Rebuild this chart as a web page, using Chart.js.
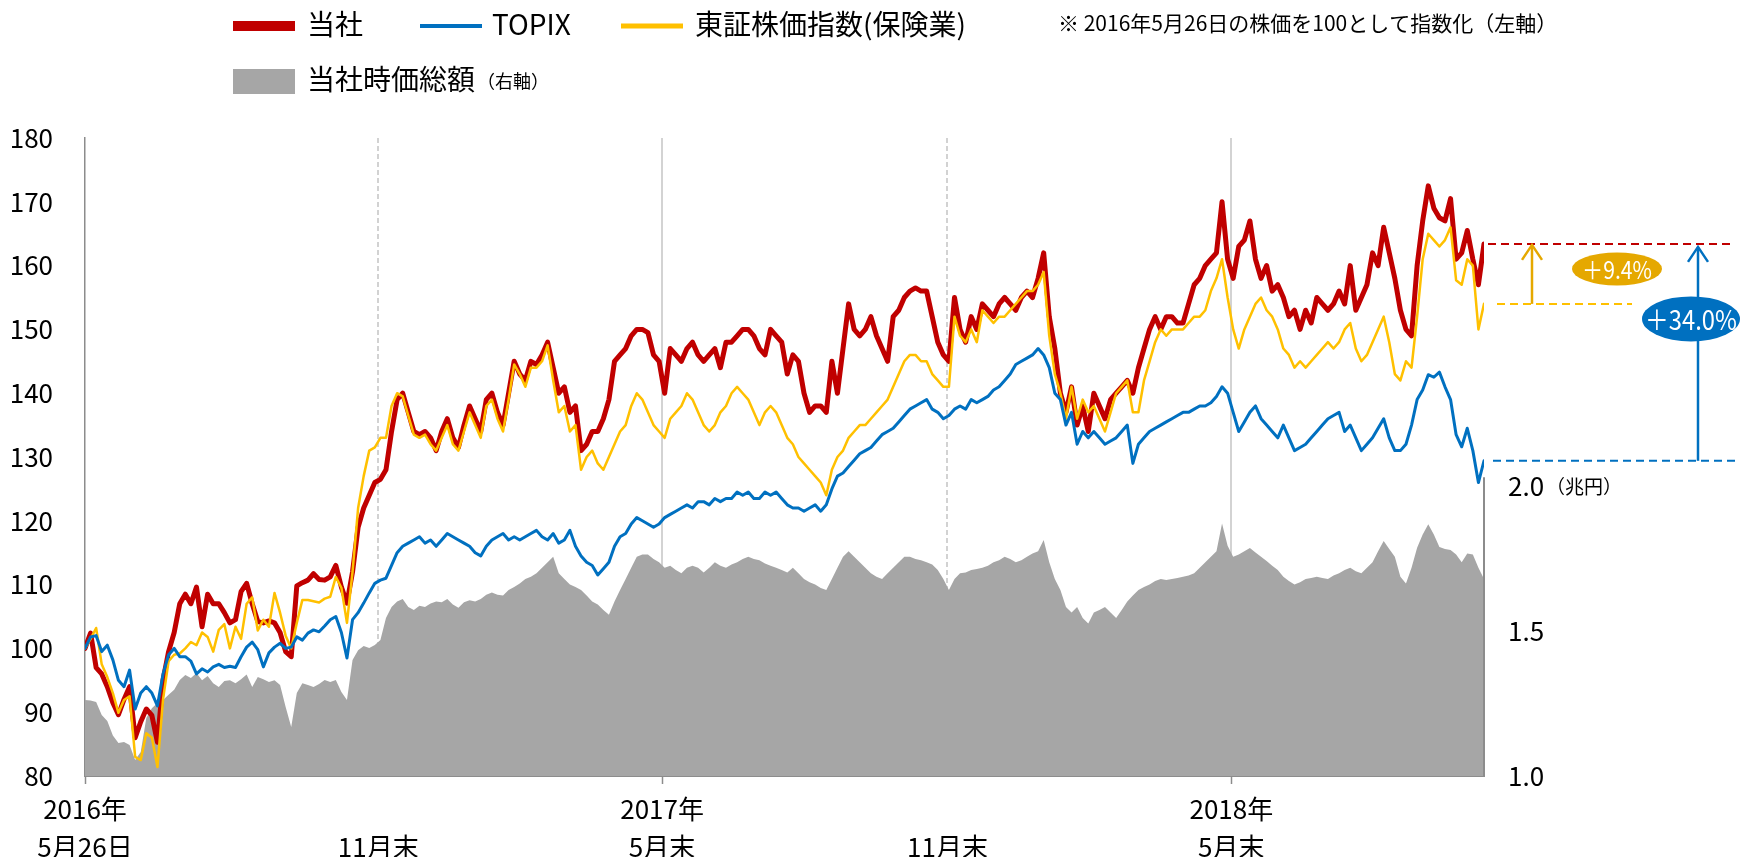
<!DOCTYPE html>
<html lang="ja">
<head>
<meta charset="utf-8">
<title>株価推移</title>
<script src="https://cdn.jsdelivr.net/npm/chart.js@4/dist/chart.umd.min.js"></script>
<style>
  html, body { margin: 0; padding: 0; background: #ffffff; }
  canvas { display: block; }
</style>
</head>
<body>
<canvas id="c" width="1746" height="857" style="width:1746px;height:857px"></canvas>
<script>
// ---- Period covered (samples are evenly spaced between these dates) ----
const START_DATE = '2016-05-26';
const END_DATE = '2018-11-09';

// ---- Share price index, 2016-05-26 = 100 (left axis) ----
const companyIdx = [
  100, 102.4, 97, 96, 94, 91.5, 89.6, 92, 94, 86,
  88.5, 90.5, 89.5, 85.3, 95, 99.5, 102.5, 107, 108.5, 107,
  109.6, 103.4, 108.5, 107, 107, 105.6, 104, 104.5, 108.9, 110.2,
  107, 104.2, 104, 104.3, 104, 102.5, 99.5, 98.7, 109.8, 110.3,
  110.7, 111.7, 110.8, 110.7, 111.2, 113, 109.6, 107.1, 112, 119,
  122, 124, 126, 126.5, 128, 134, 139, 140, 137, 134,
  133.5, 134, 133, 131, 134, 136, 133, 131.5, 135, 138,
  136, 134, 139, 140, 137, 135, 140, 145, 143, 142,
  145, 144.5, 146, 148, 144, 140, 141, 137, 138, 131,
  132, 134, 134, 136, 139, 145, 146, 147, 149, 150,
  150, 149.5, 146, 145, 140, 147, 146, 145, 147, 148,
  146, 145, 146, 147, 144, 148, 148, 149, 150, 150,
  149, 147, 146, 150, 149, 148, 143, 146, 145, 140,
  137, 138, 138, 137, 145, 140, 147, 154, 150, 149,
  150, 152, 149, 147, 145, 152, 153, 155, 156, 156.5,
  156, 156, 152, 148, 146, 145, 155, 150, 148, 152,
  150, 154, 153, 152, 154, 155, 154, 153, 155, 156,
  155, 158, 162, 152, 147, 140, 137, 141, 135, 138,
  134, 140, 138, 136, 139, 140, 141, 142, 140, 144,
  147, 150, 152, 150, 152, 152, 151, 151, 154, 157,
  158, 160, 161, 162, 170, 161, 158, 163, 164, 167,
  161, 158, 160, 156, 157, 155, 152, 153, 150, 153,
  151, 155, 154, 153, 154, 156, 154, 160, 153, 155,
  157, 162, 160, 166, 162, 158, 153, 150, 149, 160,
  167, 172.5, 169, 167.5, 167, 170.5, 161, 162, 165.5, 161,
  157, 163.4
];

const topixIdx = [
  100, 101.8, 102, 99.5, 100.5, 98.2, 95, 94, 96.6, 90.5,
  93, 94, 93, 91, 96, 99, 100, 98.7, 98.7, 98,
  96, 96.8, 96.3, 97.1, 97.5, 97, 97.2, 97, 98.7, 100.2,
  101, 99.8, 97.1, 99.3, 100.2, 100.8, 100, 100.2, 101.8, 101.3,
  102.4, 102.9, 102.6, 103.5, 104.5, 105, 102.5, 98.5, 104.5, 105.6,
  107.1, 108.7, 110.2, 110.7, 111, 113, 115, 116, 116.5, 117,
  117.5, 116.5, 117, 116, 117, 118, 117.5, 117, 116.5, 116,
  115, 114.5, 116, 117, 117.5, 118, 117, 117.5, 117, 117.5,
  118, 118.5, 117.5, 117, 118, 116.5, 117, 118.5, 116, 114.5,
  113.5, 113, 111.5, 112.5, 113.5, 116, 117.5, 118, 119.5, 120.5,
  120, 119.5, 119, 119.5, 120.5, 121, 121.5, 122, 122.5, 122,
  123, 123, 122.5, 123.5, 123, 123.5, 123.5, 124.5, 124, 124.5,
  123.5, 123.5, 124.5, 124, 124.5, 123.5, 122.5, 122, 122, 121.5,
  122, 122.5, 121.5, 122.5, 125, 127, 127.5, 128.5, 129.5, 130.5,
  131, 131.5, 132.5, 133.5, 134, 134.5, 135.5, 136.5, 137.5, 138,
  138.5, 139, 137.5, 137, 136, 136.5, 137.5, 138, 137.5, 139,
  138.5, 139, 139.5, 140.5, 141, 142, 143, 144.5, 145, 145.5,
  146, 147, 146, 144, 140, 139, 135, 137, 132, 134,
  133, 134, 133, 132, 132.5, 133, 134, 135, 129, 132,
  133, 134, 134.5, 135, 135.5, 136, 136.5, 137, 137, 137.5,
  138, 138, 138.5, 139.5, 141, 140, 137, 134, 135.5, 137,
  138, 136, 135, 134, 133, 135, 133, 131, 131.5, 132,
  133, 134, 135, 136, 136.5, 137, 134, 135, 133, 131,
  132, 133, 134.5, 136, 133, 131, 131, 132, 135, 139,
  140.5, 142.9, 142.5, 143.3, 141, 139, 133.5, 131.6, 134.5, 131,
  126, 129.4
];

const insuranceIdx = [
  100, 101.5, 103.2, 97.5, 95.5, 93, 89.9, 91.9, 92.5, 83,
  82.5, 86.7, 86, 81.4, 92, 98, 99, 99.2, 100, 101,
  100.5, 102.5, 101.8, 99.5, 102.9, 103.8, 100, 103.4, 101.5, 107,
  108, 102.8, 104.5, 103.4, 108.7, 105.6, 102, 100, 104, 107.6,
  107.6, 107.4, 107.2, 107.8, 108.1, 111.2, 109.5, 104, 112, 122,
  127, 131, 131.5, 133, 133, 138, 140, 139.5, 136.5, 133.5,
  133, 133.5, 132, 131, 133, 135, 132, 131, 134, 137,
  135, 133, 138, 139, 136, 134, 139, 144.5, 143, 141,
  144, 144, 145, 147.5, 142, 137, 138, 134, 135, 128,
  130, 131, 129, 128, 130, 132, 134, 135, 138, 140,
  139, 137, 135, 134, 133, 136, 137, 138, 140, 139,
  137, 135, 134, 135, 137, 138, 140, 141, 140, 139,
  137, 135, 137, 138, 137, 135, 133, 132, 130, 129,
  128, 127, 126, 124, 128, 130, 131, 133, 134, 135,
  135, 136, 137, 138, 139, 141, 143, 145, 146, 146,
  145, 145, 143, 142, 141, 141, 152, 149, 148, 150,
  148, 153, 152, 151, 152, 152, 153, 154, 155, 156,
  156, 157, 159, 149, 143, 140, 136, 141, 136, 139,
  137, 138, 136, 134, 137, 140, 141, 142, 137, 137,
  142, 145, 148, 150, 149, 150, 150, 150, 151, 152,
  152, 153, 156, 158, 161, 155, 150, 147, 150, 152,
  154, 155, 153, 152, 150, 147, 146, 144, 145, 144,
  145, 146, 147, 148, 147, 148, 150, 151, 147, 145,
  146, 148, 150, 152, 148, 143, 142, 145, 144, 152,
  161, 165, 164, 163, 164, 166, 157.7, 157, 161, 160,
  150, 154
];

// ---- Market capitalisation, trillion yen (right axis) ----
const marketCap = [
  1.262, 1.26, 1.255, 1.21, 1.19, 1.14, 1.114, 1.117, 1.107, 1.055,
  1.083, 1.2, 1.234, 1.252, 1.262, 1.28, 1.297, 1.331, 1.348, 1.338,
  1.355, 1.33, 1.345, 1.32, 1.307, 1.328, 1.33, 1.32, 1.334, 1.35,
  1.307, 1.341, 1.334, 1.324, 1.33, 1.314, 1.238, 1.169, 1.286, 1.32,
  1.314, 1.307, 1.317, 1.331, 1.324, 1.331, 1.29, 1.262, 1.40, 1.434,
  1.448, 1.441, 1.452, 1.469, 1.545, 1.583, 1.602, 1.61, 1.583, 1.572,
  1.587, 1.583, 1.595, 1.602, 1.599, 1.61, 1.591, 1.58, 1.599, 1.606,
  1.602, 1.61, 1.625, 1.633, 1.625, 1.622, 1.641, 1.652, 1.664, 1.679,
  1.687, 1.699, 1.718, 1.737, 1.756, 1.699, 1.679, 1.66, 1.652, 1.641,
  1.622, 1.602, 1.591, 1.572, 1.556, 1.602, 1.641, 1.679, 1.718, 1.756,
  1.764, 1.764, 1.748, 1.737, 1.718, 1.725, 1.71, 1.699, 1.718, 1.725,
  1.718, 1.702, 1.718, 1.737, 1.725, 1.718, 1.729, 1.737, 1.748, 1.756,
  1.748, 1.744, 1.733, 1.725, 1.718, 1.71, 1.702, 1.718, 1.699, 1.679,
  1.668, 1.66, 1.648, 1.641, 1.679, 1.718, 1.756, 1.775, 1.756, 1.737,
  1.718, 1.699, 1.687, 1.679, 1.699, 1.718, 1.737, 1.756, 1.756, 1.748,
  1.744, 1.737, 1.729, 1.71, 1.679, 1.641, 1.679, 1.699, 1.702, 1.71,
  1.714, 1.718, 1.725, 1.737, 1.744, 1.756, 1.748, 1.737, 1.744, 1.756,
  1.767, 1.775, 1.814, 1.737, 1.679, 1.641, 1.583, 1.564, 1.583, 1.545,
  1.526, 1.564, 1.572, 1.583, 1.564, 1.545, 1.572, 1.602, 1.622, 1.641,
  1.652, 1.66, 1.672, 1.679, 1.676, 1.679, 1.683, 1.687, 1.691, 1.699,
  1.718, 1.737, 1.756, 1.775, 1.871, 1.794, 1.756, 1.764, 1.775, 1.786,
  1.771, 1.756, 1.741, 1.725, 1.71, 1.687, 1.672, 1.66, 1.668, 1.679,
  1.683, 1.687, 1.683, 1.679, 1.691, 1.699, 1.71, 1.718, 1.706, 1.699,
  1.718, 1.737, 1.775, 1.81, 1.783, 1.756, 1.687, 1.664, 1.718, 1.787,
  1.833, 1.868, 1.833, 1.79, 1.783, 1.779, 1.764, 1.737, 1.767, 1.764,
  1.718, 1.679
];

// ---- Axis labelling ----
const axisDates = ['2016-05-26', '2016-11-30', '2017-05-31', '2017-11-30', '2018-05-31'];
const axisLabels = [
  ['2016年', '5月26日'],
  ['', '11月末'],
  ['2017年', '5月末'],
  ['', '11月末'],
  ['2018年', '5月末']
];
const guideDates = ['2016-11-30', '2017-05-31', '2017-11-30', '2018-05-31'];
const guideDashed = [true, false, true, false];
const rightTicks = [1.0, 1.5, 2.0];

const seriesNames = ['当社', 'TOPIX', '東証株価指数(保険業)', '当社時価総額'];
const noteText = '※ 2016年5月26日の株価を100として指数化（左軸）';

// ---------------------------------------------------------------
const FONT = '"Noto Sans CJK JP", "Noto Sans", sans-serif';
const DAY = 86400000;
const dayOf = d => Math.round((Date.parse(d) - Date.parse(START_DATE)) / DAY);
const totalDays = dayOf(END_DATE);
const axisDays = axisDates.map(dayOf);
const toPoints = arr => arr.map((v, i) => ({ x: i * totalDays / (arr.length - 1), y: v }));
const last = arr => arr[arr.length - 1];

const COLORS = { company: '#C00000', topix: '#0070C0', insurance: '#FFC000', cap: '#A6A6A6', gold: '#E5A800', axis: '#8c8c8c', guide: '#c4c4c4' };

function dashedLine(ctx, x1, x2, y, color) {
  ctx.save();
  ctx.strokeStyle = color; ctx.lineWidth = 2; ctx.setLineDash([8, 5]);
  ctx.beginPath(); ctx.moveTo(x1, y); ctx.lineTo(x2, y); ctx.stroke();
  ctx.restore();
}
function upArrow(ctx, x, yFrom, yTo, color) {
  ctx.save();
  ctx.strokeStyle = color; ctx.lineWidth = 2.5; ctx.lineJoin = 'miter';
  ctx.beginPath(); ctx.moveTo(x, yFrom); ctx.lineTo(x, yTo); ctx.stroke();
  ctx.beginPath(); ctx.moveTo(x - 10, yTo + 15); ctx.lineTo(x, yTo); ctx.lineTo(x + 10, yTo + 15); ctx.stroke();
  ctx.restore();
}
function badge(ctx, cx, cy, rx, ry, color, text, size) {
  ctx.save();
  ctx.fillStyle = color;
  ctx.beginPath(); ctx.ellipse(cx, cy, rx, ry, 0, 0, Math.PI * 2); ctx.fill();
  ctx.fillStyle = '#ffffff';
  ctx.font = `${size}px ${FONT}`;
  ctx.textAlign = 'center'; ctx.textBaseline = 'middle';
  ctx.translate(cx, cy + 1); ctx.scale(0.88, 1);
  ctx.fillText(text, 0, 0);
  ctx.restore();
}
const signed = v => '＋' + v.toFixed(1) + '%';

const overlay = {
  id: 'overlay',
  beforeDatasetsDraw(chart) {
    const { ctx, chartArea: a, scales: { x } } = chart;
    ctx.save();
    ctx.strokeStyle = COLORS.guide; ctx.lineWidth = 1.5;
    guideDates.forEach((d, i) => {
      const px = Math.round(x.getPixelForValue(dayOf(d)));
      ctx.setLineDash(guideDashed[i] ? [5, 3] : []);
      ctx.beginPath(); ctx.moveTo(px, a.top); ctx.lineTo(px, a.bottom); ctx.stroke();
    });
    ctx.restore();
  },
  afterDraw(chart) {
    const { ctx, chartArea: a, scales: { y, y2 } } = chart;
    const ds = chart.data.datasets;

    // legend, first row: line markers
    const rowY = 26;
    const items = [
      { i: 0, x: 233, h: 10, tx: 307 },
      { i: 1, x: 420, h: 4, tx: 492 },
      { i: 2, x: 621, h: 5, tx: 695 }
    ];
    ctx.save();
    ctx.textBaseline = 'middle'; ctx.textAlign = 'left'; ctx.fillStyle = '#000';
    items.forEach(it => {
      ctx.fillStyle = ds[it.i].borderColor;
      ctx.fillRect(it.x, rowY - it.h / 2, 62, it.h);
      ctx.fillStyle = '#000';
      ctx.font = `28px ${FONT}`;
      ctx.fillText(ds[it.i].label, it.tx, rowY - 2);
    });
    ctx.font = `21px ${FONT}`;
    ctx.fillText(noteText, 1058, 23);

    // legend, second row: area swatch
    ctx.fillStyle = ds[3].backgroundColor;
    ctx.fillRect(233, 69, 62, 25);
    ctx.fillStyle = '#000';
    ctx.font = `28px ${FONT}`;
    ctx.fillText(ds[3].label, 307, 79);
    const w = ctx.measureText(ds[3].label).width;
    ctx.font = `18px ${FONT}`;
    ctx.fillText('（右軸）', 307 + w + 2, 81);

    // right axis line and labels
    ctx.strokeStyle = COLORS.axis; ctx.lineWidth = 2;
    ctx.beginPath(); ctx.moveTo(a.right, y2.getPixelForValue(2.03)); ctx.lineTo(a.right, a.bottom + 1); ctx.stroke();
    rightTicks.forEach(v => {
      const py = y2.getPixelForValue(v);
      ctx.font = `26px ${FONT}`;
      ctx.fillText(v.toFixed(1), a.right + 24, py);
      if (v === 2.0) {
        const tw = ctx.measureText('2.0').width;
        ctx.font = `19px ${FONT}`;
        ctx.fillText('（兆円）', a.right + 24 + tw + 2, py + 1);
      }
    });
    ctx.restore();

    // spread annotations against the final values
    const cEnd = last(companyIdx), iEnd = last(insuranceIdx), tEnd = last(topixIdx);
    const yC = y.getPixelForValue(cEnd), yI = y.getPixelForValue(iEnd), yT = y.getPixelForValue(tEnd);
    dashedLine(ctx, a.right + 4, 1732, yC, COLORS.company);
    dashedLine(ctx, a.right + 13, 1632, yI, COLORS.insurance);
    dashedLine(ctx, a.right + 9, 1740, yT, COLORS.topix);
    upArrow(ctx, 1532, yI, yC + 1, COLORS.gold);
    upArrow(ctx, 1698, yT, yC + 3, COLORS.topix);
    badge(ctx, 1617, (yC + yI) / 2 - 5, 45, 16.5, COLORS.gold, signed(cEnd - iEnd), 24);
    badge(ctx, 1691, yC + 75, 49, 22.5, COLORS.topix, signed(cEnd - tEnd), 27);
  }
};

new Chart(document.getElementById('c'), {
  type: 'line',
  data: {
    datasets: [
      { label: seriesNames[0], data: toPoints(companyIdx), yAxisID: 'y', borderColor: COLORS.company, borderWidth: 5, order: 3 },
      { label: seriesNames[1], data: toPoints(topixIdx), yAxisID: 'y', borderColor: COLORS.topix, borderWidth: 3, order: 1 },
      { label: seriesNames[2], data: toPoints(insuranceIdx), yAxisID: 'y', borderColor: COLORS.insurance, borderWidth: 2.5, order: 2 },
      { label: seriesNames[3], data: toPoints(marketCap), yAxisID: 'y2', borderColor: 'rgba(0,0,0,0)', borderWidth: 0,
        backgroundColor: COLORS.cap, fill: 'start', order: 4 }
    ]
  },
  options: {
    responsive: false,
    animation: false,
    devicePixelRatio: 1,
    layout: { padding: { top: 138, right: 262, left: 0, bottom: 0 } },
    elements: {
      point: { radius: 0 },
      line: { tension: 0, borderJoinStyle: 'round', borderCapStyle: 'round', fill: false }
    },
    plugins: { legend: { display: false }, tooltip: { enabled: false } },
    scales: {
      x: {
        type: 'linear', min: 0, max: totalDays,
        afterBuildTicks: s => { s.ticks = axisDays.map(v => ({ value: v })); },
        afterFit: s => { s.height = 81; },
        ticks: {
          autoSkip: false, maxRotation: 0, minRotation: 0, padding: 6, color: '#000',
          font: { family: FONT, size: 26, lineHeight: '38px' },
          callback: (v, i) => axisLabels[i]
        },
        grid: {
          display: true, drawOnChartArea: false, drawTicks: true, tickLength: 8, tickWidth: 1.5,
          tickColor: c => (c.tick && axisLabels[c.index] && axisLabels[c.index][0] === '') ? 'rgba(0,0,0,0)' : COLORS.axis
        },
        border: { display: true, color: COLORS.axis, width: 2 }
      },
      y: {
        position: 'left', min: 80, max: 180,
        afterFit: s => { s.width = 85; },
        ticks: { stepSize: 10, padding: 32, color: '#000', font: { family: FONT, size: 26 } },
        grid: { display: false, drawTicks: false },
        border: { display: true, color: COLORS.axis, width: 1.5 }
      },
      y2: {
        position: 'right', min: 1.0, max: 3.2, display: false
      }
    }
  },
  plugins: [overlay]
});
</script>
</body>
</html>
